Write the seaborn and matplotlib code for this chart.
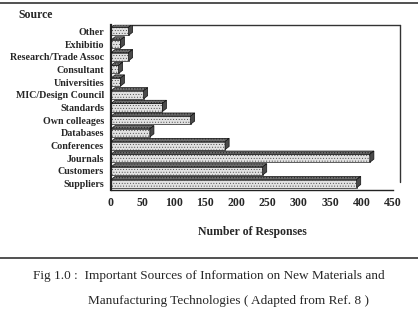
import numpy as np
import pandas as pd
import matplotlib
matplotlib.use("Agg")
import matplotlib.pyplot as plt
from matplotlib.patches import Polygon
from matplotlib.lines import Line2D
import seaborn as sns

# values
sources = ["Other", "Exhibitio", "Research/Trade Assoc", "Consultant", "Universities",
           "MIC/Design Council", "Standards", "Own colleages", "Databases",
           "Conferences", "Journals", "Customers", "Suppliers"]
responses = [28, 15, 28, 12, 15, 52, 82, 127, 62, 182, 413, 242, 392]
xticks = [0, 50, 100, 150, 200, 250, 300, 350, 400, 450]

df = pd.DataFrame({"Source": sources, "Responses": responses})

sns.set_style("white")
plt.rcParams["font.family"] = ["Liberation Serif", "DejaVu Serif"]
plt.rcParams["hatch.linewidth"] = 0.35

fig = plt.figure(figsize=(4.18, 3.16), dpi=100)
ax = fig.add_axes([111 / 418, 126 / 316, 282 / 418, 165 / 316])

sns.barplot(data=df, x="Responses", y="Source", orient="h", ax=ax,
            color="#e2e2e2", width=0.64, edgecolor="#444444", linewidth=0.6,
            hatch="......", saturation=1)

ax.set_xlim(0, 450)
ax.set_ylim(12.5, -0.5)

# pseudo 3D faces for every bar, taken from the bar geometry
dx, dy = 6.5, 0.25
for p in ax.patches:
    x0, y0 = p.get_x(), p.get_y()
    w, h = p.get_width(), p.get_height()
    top = Polygon([[x0, y0], [x0 + dx, y0 - dy], [x0 + w + dx, y0 - dy], [x0 + w, y0]],
                  closed=True, facecolor="#6e6e6e", edgecolor="#111111",
                  linewidth=0.5, hatch="......", zorder=3)
    side = Polygon([[x0 + w, y0], [x0 + w + dx, y0 - dy], [x0 + w + dx, y0 + h - dy], [x0 + w, y0 + h]],
                   closed=True, facecolor="#4a4a4a", edgecolor="#111111",
                   linewidth=0.5, zorder=3)
    ax.add_patch(top)
    ax.add_patch(side)

# back wall lines
ax.add_line(Line2D([0.01, 1.025], [1.0, 1.0], transform=ax.transAxes,
                   color="#333333", lw=1.0, clip_on=False))
ax.add_line(Line2D([1.025, 1.025], [1.0, 0.05], transform=ax.transAxes,
                   color="#333333", lw=1.0, clip_on=False))

for s in ["top", "right"]:
    ax.spines[s].set_visible(False)
ax.spines["left"].set_linewidth(1.6)
ax.spines["bottom"].set_linewidth(1.0)
ax.spines["left"].set_color("#222222")
ax.spines["bottom"].set_color("#222222")

ax.set_xticks(xticks)
ax.set_xticklabels([str(t) for t in xticks], fontsize=8.5, fontweight="bold")
ax.tick_params(axis="x", length=3, width=0.8, direction="out", pad=2)
ax.tick_params(axis="y", length=3, width=0.8, direction="out", pad=2)
ax.set_yticks(range(len(sources)))
ax.set_yticklabels(sources, fontsize=7.2, fontweight="bold")
ax.set_ylabel("")
ax.set_xlabel("Number of Responses", fontsize=8.5, fontweight="bold", labelpad=12)

fig.text(18 / 418, 1 - 15 / 316, "Source", fontsize=8.5, fontweight="bold", va="center")

# frame lines of the figure box
fig.add_artist(Line2D([0, 1], [1 - 3 / 316, 1 - 3 / 316], color="#333333", lw=1.2))
fig.add_artist(Line2D([0, 1], [1 - 258 / 316, 1 - 258 / 316], color="#333333", lw=1.2))

fig.text(33 / 418, 1 - 276 / 316,
         "Fig 1.0 :  Important Sources of Information on New Materials and",
         fontsize=9.5, va="center")
fig.text(88 / 418, 1 - 301 / 316,
         "Manufacturing Technologies ( Adapted from Ref. 8 )",
         fontsize=9.5, va="center")

fig.savefig("out.png", dpi=100)
